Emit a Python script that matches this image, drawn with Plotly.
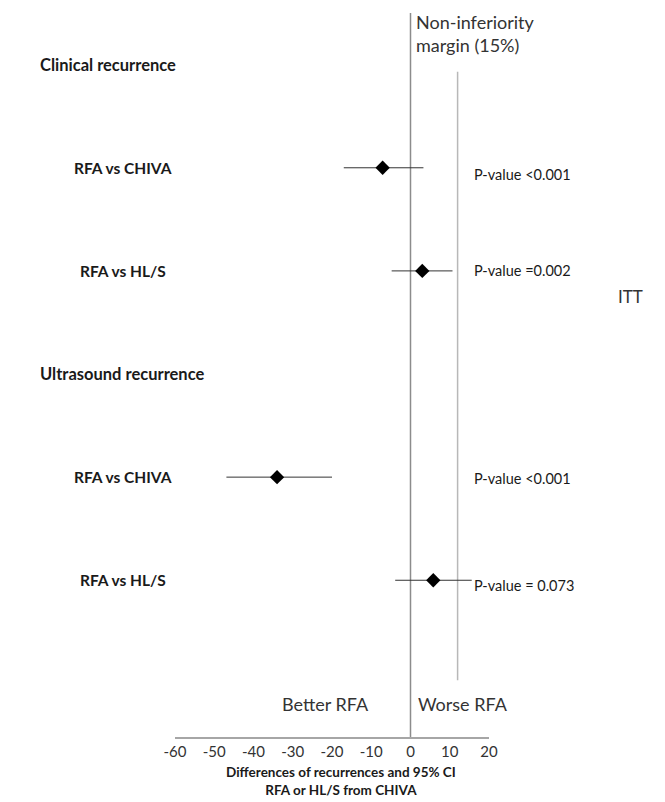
import plotly.graph_objects as go

# ---- data ----
comparisons = ["RFA vs CHIVA", "RFA vs HL/S", "RFA vs CHIVA", "RFA vs HL/S"]
row_pos = [1, 2, 4, 5]
estimates = [-7.1, 3.0, -34.0, 5.8]
ci_low = [-17.0, -4.8, -46.9, -3.9]
ci_high = [3.3, 10.7, -20.0, 15.6]
p_values = ["P-value <0.001", "P-value =0.002", "P-value <0.001", "P-value = 0.073"]
headers = ["Clinical recurrence", "Ultrasound recurrence"]
header_pos = [0, 3]
x_ticks = [-60, -50, -40, -30, -20, -10, 0, 10, 20]
margin_value = 12

# style: small vertical offsets of p-value labels (row units)
p_offsets = [0.07, 0.0, 0.01, 0.05]

FONT = "Lato, 'Open Sans', sans-serif"
PAGE_OFF = 8  # default body margin of the html page

err_plus = [h - e for h, e in zip(ci_high, estimates)]
err_minus = [e - l for e, l in zip(estimates, ci_low)]

fig = go.Figure()
fig.add_trace(go.Scatter(
    x=estimates, y=row_pos, mode="markers",
    marker=dict(symbol="diamond", size=11, color="black"),
    error_x=dict(type="data", symmetric=False, array=err_plus, arrayminus=err_minus,
                 color="#333333", thickness=1, width=0),
    showlegend=False, hoverinfo="skip",
))

# reference lines
fig.add_shape(type="line", x0=0, x1=0, y0=-0.50, y1=6.52, xref="x", yref="y",
              line=dict(color="#8c8c8c", width=1.5), layer="below")
fig.add_shape(type="line", x0=margin_value, x1=margin_value, y0=0.07, y1=5.97, xref="x", yref="y",
              line=dict(color="#b8b8b8", width=1.5), layer="below")

def px_to_paper(px):
    return (px - 175) / 314.0

annotations = []
for h, yp in zip(headers, header_pos):
    annotations.append(dict(text=f"<b>{h}</b>", x=px_to_paper(38), xref="paper", y=yp, yref="y",
                            xanchor="left", yanchor="middle", showarrow=False,
                            font=dict(family=FONT, size=16.5, color="#1a1a1a")))
for c, yp in zip(comparisons, row_pos):
    annotations.append(dict(text=f"<b>{c}</b>", x=px_to_paper(123), xref="paper", y=yp, yref="y",
                            xanchor="center", yanchor="middle", showarrow=False,
                            font=dict(family=FONT, size=15.5, color="#1a1a1a")))
for p, yp, off in zip(p_values, row_pos, p_offsets):
    annotations.append(dict(text=p, x=px_to_paper(472), xref="paper", y=yp + off, yref="y",
                            xanchor="left", yanchor="middle", showarrow=False,
                            font=dict(family=FONT, size=14.5, color="#1a1a1a")))

annotations += [
    dict(text="Non-inferiority<br>margin (15%)", x=px_to_paper(414), xref="paper", y=-0.30, yref="y",
         xanchor="left", yanchor="middle", showarrow=False, align="left",
         font=dict(family=FONT, size=18, color="#333333")),
    dict(text="ITT", x=px_to_paper(616), xref="paper", y=2.25, yref="y",
         xanchor="left", yanchor="middle", showarrow=False,
         font=dict(family=FONT, size=17, color="#333333")),
    dict(text="Better RFA", x=px_to_paper(325), xref="paper", y=6.2, yref="y",
         xanchor="center", yanchor="middle", showarrow=False,
         font=dict(family=FONT, size=18, color="#333333")),
    dict(text="Worse RFA", x=px_to_paper(463), xref="paper", y=6.2, yref="y",
         xanchor="center", yanchor="middle", showarrow=False,
         font=dict(family=FONT, size=18, color="#333333")),
    dict(text="<b>Differences of recurrences and 95% CI</b><br><b>RFA or HL/S from CHIVA</b>",
         x=px_to_paper(341), xref="paper", y=-(762 - 737) / 727.0, yref="paper",
         xanchor="center", yanchor="top", showarrow=False, align="center",
         font=dict(family=FONT, size=13.5, color="#1a1a1a")),
]

fig.update_layout(
    width=665, height=802,
    margin=dict(l=175 - PAGE_OFF, r=176 + PAGE_OFF, t=10 - PAGE_OFF, b=65 + PAGE_OFF),
    paper_bgcolor="white", plot_bgcolor="white",
    annotations=annotations,
    xaxis=dict(range=[-60, 20], tickvals=x_ticks, ticktext=[str(v) for v in x_ticks],
               showgrid=False, zeroline=False, showline=True, linecolor="#a6a6a6", linewidth=1.5,
               ticks="", ticklen=0, tickfont=dict(family=FONT, size=15, color="#333333"),
               fixedrange=True),
    yaxis=dict(range=[6.52, -0.53], visible=False, showgrid=False, zeroline=False, fixedrange=True),
)

fig.write_html("out.html")
